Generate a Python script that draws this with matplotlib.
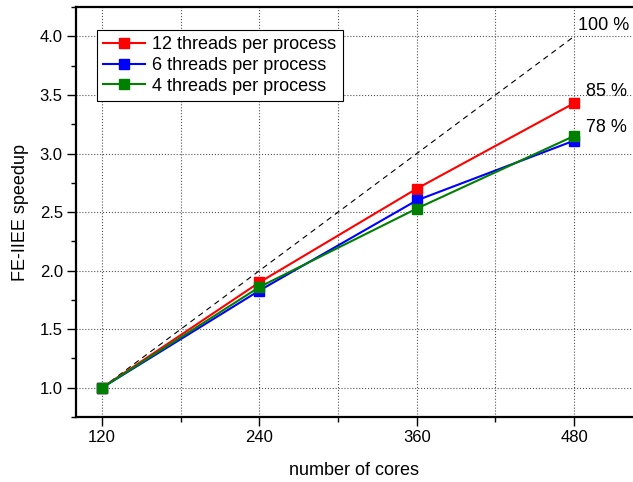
import matplotlib
matplotlib.use("Agg")
import matplotlib.pyplot as plt
from matplotlib.ticker import MultipleLocator

plt.rcParams["font.family"] = ["Liberation Sans", "DejaVu Sans"]

cores = [120, 240, 360, 480]
ideal = [1.0, 2.0, 3.0, 4.0]
speedup_12 = [1.0, 1.90, 2.70, 3.43]
speedup_6 = [1.0, 1.83, 2.60, 3.11]
speedup_4 = [1.0, 1.86, 2.53, 3.15]
labels = ["12 threads per process", "6 threads per process", "4 threads per process"]
efficiency = ["100 %", "85 %", "78 %"]
eff_y = [4.09, 3.53, 3.22]

fig = plt.figure(figsize=(6.33, 4.82), dpi=100)
ax = fig.add_axes([0.120, 0.135, 0.880, 0.850])

ax.plot(cores, ideal, color="black", linestyle=(0, (5, 4)), linewidth=0.8)
ax.plot(cores, speedup_12, color="#ff0000", marker="s", markersize=6.5, linewidth=1.5, label=labels[0])
ax.plot(cores, speedup_6, color="#0000ff", marker="s", markersize=6.5, linewidth=1.5, label=labels[1])
ax.plot(cores, speedup_4, color="#008000", marker="s", markersize=6.5, linewidth=1.5, label=labels[2])

ax.text(cores[-1] + 3, eff_y[0], efficiency[0], fontsize=13, va="center", ha="left")
ax.text(cores[-1] + 9, eff_y[1], efficiency[1], fontsize=13, va="center", ha="left")
ax.text(cores[-1] + 9, eff_y[2], efficiency[2], fontsize=13, va="center", ha="left")

ax.set_xlim(100, 525)
ax.set_ylim(0.75, 4.25)
ax.xaxis.set_major_locator(MultipleLocator(120))
ax.xaxis.set_minor_locator(MultipleLocator(60))
ax.yaxis.set_major_locator(MultipleLocator(0.5))
ax.yaxis.set_minor_locator(MultipleLocator(0.25))
ax.yaxis.set_major_formatter(matplotlib.ticker.FormatStrFormatter("%.1f"))

ax.grid(which="major", color="#555555", linestyle=":", linewidth=0.8)
ax.grid(which="minor", axis="x", color="#555555", linestyle=":", linewidth=0.8)

ax.tick_params(which="major", direction="out", length=6.5, width=1, labelsize=12, pad=3)
ax.tick_params(which="minor", direction="out", length=3.5, width=1)
ax.spines["right"].set_visible(False)
for side in ("left", "bottom", "top"):
    ax.spines[side].set_linewidth(1.6)

ax.set_xlabel("number of cores", fontsize=13, labelpad=12)
ax.set_ylabel("FE-IIEE speedup", fontsize=13, labelpad=8)

leg = ax.legend(loc="upper left", bbox_to_anchor=(0.038, 0.944), borderaxespad=0,
                fontsize=13, fancybox=False, framealpha=1, edgecolor="black",
                handlelength=2.3, labelspacing=0.2, handletextpad=0.4, borderpad=0.35)
leg.get_frame().set_linewidth(0.8)

fig.savefig("out.png", dpi=100)
